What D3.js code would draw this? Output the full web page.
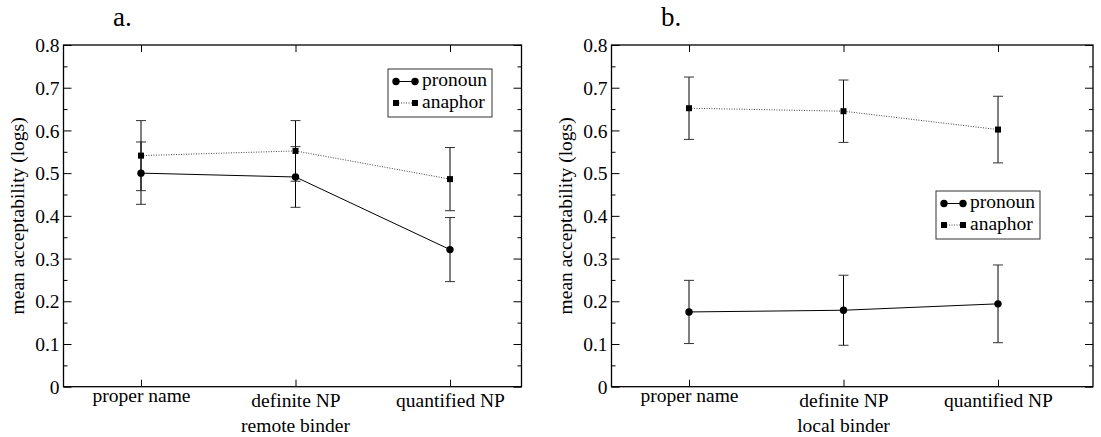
<!DOCTYPE html>
<html><head><meta charset="utf-8">
<script src="https://cdn.jsdelivr.net/npm/d3@7"></script>
<style>
body{margin:0;background:#fff}
svg{display:block}
text{font-family:"Liberation Serif","Times New Roman",serif;fill:#000}
</style>
</head><body>
<svg id="chart" width="1101" height="437"></svg>
<script>
// ---- data ----
const categories = ["proper name", "definite NP", "quantified NP"];
const seriesNames = ["pronoun", "anaphor"];
const yTicks = [0, 0.1, 0.2, 0.3, 0.4, 0.5, 0.6, 0.7, 0.8];
const yTickLabels = ["0", "0.1", "0.2", "0.3", "0.4", "0.5", "0.6", "0.7", "0.8"];
const yMinorTicks = [0.05, 0.15, 0.25, 0.35, 0.45, 0.55, 0.65, 0.75];
const panelLetters = ["a.", "b."];
const xTitles = ["remote binder", "local binder"];
const yTitle = "mean acceptability (logs)";

// panel a: remote binder
const pronounRemote = [0.500, 0.491, 0.321];
const pronounRemoteErr = [0.073, 0.071, 0.075];
const anaphorRemote = [0.541, 0.552, 0.486];
const anaphorRemoteErr = [0.082, 0.071, 0.074];
// panel b: local binder
const pronounLocal = [0.175, 0.179, 0.194];
const pronounLocalErr = [0.074, 0.082, 0.091];
const anaphorLocal = [0.652, 0.645, 0.602];
const anaphorLocalErr = [0.073, 0.073, 0.078];

// ---- layout ----
const panelLefts = [63.5, 611.5];
const panelWidths = [458, 481.5];
const catStart = 77.5, catStep = 154.5;
const plotTop = 45, plotBottom = 386.7;
const legendOffsets = [[324.5, 24], [324.5, 146]];
const FS = 19.5;
const FONT = FS + "px 'Liberation Serif'";
const R = 3.7, SQ = 6;

const panels = [
  {pron: pronounRemote, pronErr: pronounRemoteErr, ana: anaphorRemote, anaErr: anaphorRemoteErr},
  {pron: pronounLocal, pronErr: pronounLocalErr, ana: anaphorLocal, anaErr: anaphorLocalErr}
];

const measureCtx = document.createElement("canvas").getContext("2d");
function inkAscent(t, font) { measureCtx.font = font; return measureCtx.measureText(t).actualBoundingBoxAscent; }

const svg = d3.select("#chart");
const h = plotBottom - plotTop;
const y = d3.scaleLinear().domain([0, 0.8]).range([h, 0]);
const x = d3.scalePoint().domain(categories).range([catStart, catStart + catStep * (categories.length - 1)]);

panels.forEach((p, pi) => {
  const plotW = panelWidths[pi];
  const g = svg.append("g").attr("transform", `translate(${panelLefts[pi]},${plotTop})`);

  // letter
  g.append("text").attr("x", 49.5).attr("y", -19.5).style("font-size", "27px").text(panelLetters[pi]);

  // left axis
  const la = g.append("g").call(d3.axisLeft(y).tickValues(yTicks).tickSizeInner(-8).tickSizeOuter(0).tickPadding(4)
      .tickFormat((d, i) => yTickLabels[i]));
  la.select(".domain").remove();
  la.selectAll("text").style("font-size", FS + "px").style("font-family", "'Liberation Serif', serif").attr("dy", "0.34em");
  const lm = g.append("g").call(d3.axisLeft(y).tickValues(yMinorTicks).tickSizeInner(-4).tickSizeOuter(0).tickFormat(""));
  lm.select(".domain").remove();

  // right axis
  const ra = g.append("g").attr("transform", `translate(${plotW},0)`)
    .call(d3.axisRight(y).tickValues(yTicks).tickSizeInner(-8).tickSizeOuter(0).tickFormat(""));
  ra.select(".domain").remove();
  const rm = g.append("g").attr("transform", `translate(${plotW},0)`)
    .call(d3.axisRight(y).tickValues(yMinorTicks).tickSizeInner(-4).tickSizeOuter(0).tickFormat(""));
  rm.select(".domain").remove();

  // top axis
  const ta = g.append("g").call(d3.axisTop(x).tickSizeInner(-7).tickSizeOuter(0).tickFormat(""));
  ta.select(".domain").remove();

  // bottom axis
  const ba = g.append("g").attr("transform", `translate(0,${h})`)
    .call(d3.axisBottom(x).tickSizeInner(-7).tickSizeOuter(0));
  ba.select(".domain").remove();
  ba.selectAll("text").style("font-size", FS + "px").style("font-family", "'Liberation Serif', serif")
    .attr("dy", null).attr("y", d => 6.5 + inkAscent(d, FONT));

  // frame
  g.append("rect").attr("x", 0).attr("y", 0).attr("width", plotW).attr("height", h)
    .attr("fill", "none").attr("stroke", "#000").attr("stroke-width", 1.3);

  // x title
  g.append("text").attr("x", x(categories[1])).attr("y", h + 45).attr("text-anchor", "middle")
    .style("font-size", FS + "px").text(xTitles[pi]);
  // y title
  g.append("text").attr("transform", `translate(-40,${h / 2}) rotate(-90)`).attr("text-anchor", "middle")
    .style("font-size", FS + "px").text(yTitle);

  // error bars
  const capW = 5;
  function errBars(vals, errs) {
    const eg = g.append("g").attr("stroke", "#000").attr("stroke-width", 1);
    categories.forEach((c, i) => {
      const cx = x(c), yt = y(vals[i] + errs[i]), yb = y(vals[i] - errs[i]);
      eg.append("line").attr("x1", cx).attr("x2", cx).attr("y1", yt).attr("y2", yb);
      eg.append("line").attr("x1", cx - capW).attr("x2", cx + capW).attr("y1", yt).attr("y2", yt).attr("stroke", "#333");
      eg.append("line").attr("x1", cx - capW).attr("x2", cx + capW).attr("y1", yb).attr("y2", yb).attr("stroke", "#333");
    });
  }
  errBars(p.pron, p.pronErr);
  errBars(p.ana, p.anaErr);

  const line = d3.line().x((d, i) => x(categories[i])).y(d => y(d));
  g.append("path").datum(p.ana).attr("d", line).attr("fill", "none").attr("stroke", "#444")
    .attr("stroke-width", 1).attr("stroke-dasharray", "1,1.5");
  g.append("path").datum(p.pron).attr("d", line).attr("fill", "none").attr("stroke", "#000").attr("stroke-width", 1);

  g.selectAll(".sq").data(p.ana).enter().append("rect")
    .attr("x", (d, i) => x(categories[i]) - SQ / 2).attr("y", d => y(d) - SQ / 2)
    .attr("width", SQ).attr("height", SQ).attr("fill", "#000");
  g.selectAll(".ci").data(p.pron).enter().append("circle")
    .attr("cx", (d, i) => x(categories[i])).attr("cy", d => y(d)).attr("r", R).attr("fill", "#000");

  // legend
  const [lx, ly] = legendOffsets[pi];
  const lg = g.append("g").attr("transform", `translate(${lx},${ly})`);
  lg.append("rect").attr("x", 0).attr("y", 0).attr("width", 104).attr("height", 48)
    .attr("fill", "#fff").attr("stroke", "#333").attr("stroke-width", 1);
  seriesNames.forEach((s, i) => {
    const ry = 12.5 + i * 21.5;
    const x1 = 8, x2 = 27;
    if (i === 0) {
      lg.append("line").attr("x1", x1).attr("x2", x2).attr("y1", ry).attr("y2", ry).attr("stroke", "#000");
      lg.append("circle").attr("cx", x1).attr("cy", ry).attr("r", R).attr("fill", "#000");
      lg.append("circle").attr("cx", x2).attr("cy", ry).attr("r", R).attr("fill", "#000");
    } else {
      lg.append("line").attr("x1", x1).attr("x2", x2).attr("y1", ry).attr("y2", ry).attr("stroke", "#444")
        .attr("stroke-dasharray", "1,1.5");
      lg.append("rect").attr("x", x1 - SQ / 2).attr("y", ry - SQ / 2).attr("width", SQ).attr("height", SQ).attr("fill", "#000");
      lg.append("rect").attr("x", x2 - SQ / 2).attr("y", ry - SQ / 2).attr("width", SQ).attr("height", SQ).attr("fill", "#000");
    }
    lg.append("text").attr("x", 34).attr("y", ry + 4.5).style("font-size", FS + "px").text(s);
  });
});
</script>
</body></html>
